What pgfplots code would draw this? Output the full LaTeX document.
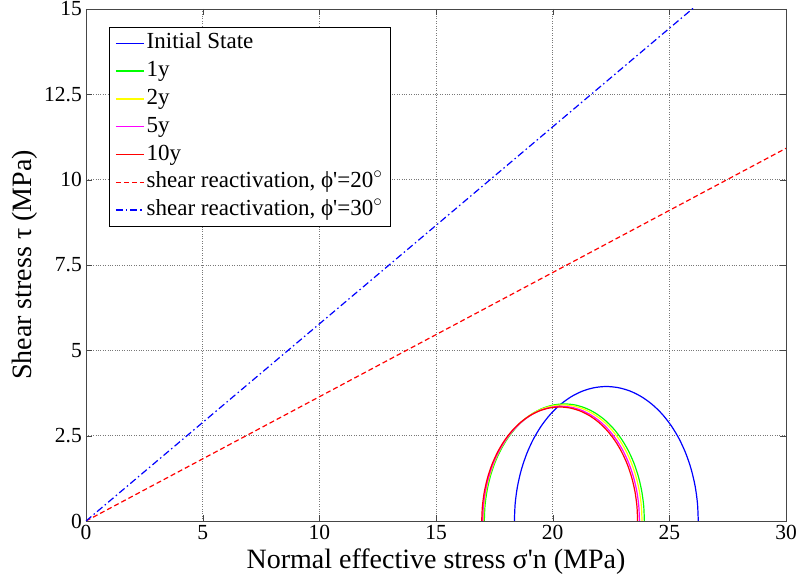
\documentclass[border=0pt]{standalone}
\usepackage{fontspec}
\setmainfont{Liberation Serif}
\usepackage{pgfplots}
\pgfplotsset{compat=1.18}
\definecolor{mblue}{RGB}{0,0,255}
\definecolor{mgreen}{RGB}{0,255,0}
\definecolor{myellow}{RGB}{255,255,0}
\definecolor{mmagenta}{RGB}{255,0,255}
\definecolor{mred}{RGB}{255,0,0}
\definecolor{mframe}{RGB}{70,70,70}
\definecolor{mgrid}{RGB}{120,120,120}
\begin{document}
\begin{tikzpicture}
\begin{axis}[
  scale only axis, width=700bp, height=512bp,
  xmin=0, xmax=30, ymin=0, ymax=15,
  xtick={0,5,...,30}, ytick={0,2.5,5,7.5,10,12.5,15},
  tick align=inside, major tick length=6bp,
  grid=major, grid style={dotted, draw=mgrid},
  axis line style={draw=mframe}, tick style={draw=mframe},
  /pgf/number format/assume math mode=true,
  xticklabel={\pgfmathprintnumber[assume math mode=true]{\tick}},
  yticklabel={\pgfmathprintnumber[assume math mode=true]{\tick}},
  ticklabel style={font=\fontsize{21.5bp}{26bp}\selectfont},
  yticklabel style={inner xsep=4bp},
  xticklabel style={inner ysep=4bp},
  xlabel={Normal effective stress σ\textquotesingle n (MPa)},
  ylabel={Shear stress τ (MPa)},
  label style={font=\fontsize{28bp}{32bp}\selectfont},
  xlabel style={at={(axis description cs:0.5,0)}, anchor=base, yshift=-47bp},
  ylabel style={at={([xshift=-61bp]axis description cs:0,0.5)}, anchor=center},
  legend style={at={(0.0329,0.964)}, anchor=north west, draw=black, fill=white,
    font=\fontsize{23bp}{27bp}\selectfont, row sep=0bp, inner xsep=6bp, inner ysep=1.8bp,
    nodes={inner ysep=3.4bp, inner xsep=2bp, text height=16bp, text depth=5bp}},
  legend cell align=left,
  legend image code/.code={\draw[#1, line width=1.5bp] (0bp,0bp) -- (28bp,0bp);},
  every axis plot/.append style={line width=1.2bp},
]
\addplot[draw=mblue, smooth] coordinates {
(26.24,0) (26.206,0.514) (26.106,1.020) (25.940,1.508) (25.712,1.97) (25.426,2.399) (25.086,2.786) (24.699,3.126) (24.270,3.412) (23.808,3.640) (23.320,3.806) (22.814,3.906) (22.30,3.94) (21.786,3.906) (21.280,3.806) (20.792,3.640) (20.330,3.412) (19.901,3.126) (19.514,2.786) (19.174,2.399) (18.888,1.97) (18.660,1.508) (18.494,1.020) (18.394,0.514) (18.36,0)};
\addlegendentry{Initial State}
\addplot[draw=mgreen, smooth] coordinates {
(23.93,0) (23.901,0.448) (23.813,0.888) (23.669,1.313) (23.471,1.715) (23.221,2.088) (22.925,2.425) (22.588,2.721) (22.215,2.971) (21.813,3.169) (21.388,3.313) (20.948,3.401) (20.50,3.43) (20.052,3.401) (19.612,3.313) (19.187,3.169) (18.785,2.971) (18.412,2.721) (18.075,2.425) (17.779,2.088) (17.529,1.715) (17.331,1.313) (17.187,0.888) (17.099,0.448) (17.07,0)};
\addlegendentry{1y}
\addplot[draw=myellow, smooth] coordinates {
(23.83,0) (23.801,0.444) (23.714,0.880) (23.571,1.301) (23.374,1.70) (23.127,2.070) (22.834,2.404) (22.500,2.697) (22.130,2.945) (21.731,3.141) (21.310,3.284) (20.874,3.371) (20.43,3.40) (19.986,3.371) (19.550,3.284) (19.129,3.141) (18.730,2.945) (18.360,2.697) (18.026,2.404) (17.733,2.070) (17.486,1.70) (17.289,1.301) (17.146,0.880) (17.059,0.444) (17.03,0)};
\addlegendentry{2y}
\addplot[draw=mmagenta, smooth] coordinates {
(23.72,0) (23.691,0.439) (23.606,0.870) (23.464,1.286) (23.270,1.68) (23.026,2.045) (22.736,2.376) (22.405,2.666) (22.040,2.910) (21.646,3.104) (21.230,3.246) (20.799,3.331) (20.36,3.36) (19.921,3.331) (19.490,3.246) (19.074,3.104) (18.680,2.910) (18.315,2.666) (17.984,2.376) (17.694,2.045) (17.450,1.68) (17.256,1.286) (17.114,0.870) (17.029,0.439) (17.00,0)};
\addlegendentry{5y}
\addplot[draw=mred, smooth] coordinates {
(23.64,0) (23.611,0.436) (23.526,0.865) (23.386,1.278) (23.193,1.67) (22.950,2.033) (22.662,2.362) (22.333,2.650) (21.970,2.893) (21.578,3.086) (21.165,3.226) (20.736,3.311) (20.30,3.34) (19.864,3.311) (19.435,3.226) (19.022,3.086) (18.630,2.893) (18.267,2.650) (17.938,2.362) (17.650,2.033) (17.407,1.67) (17.214,1.278) (17.074,0.865) (16.989,0.436) (16.96,0)};
\addlegendentry{10y}
\addplot[draw=mred, dash pattern=on 5bp off 3bp] coordinates {(0,0) (30,10.919)};
\addlegendentry{shear reactivation, ϕ\textquotesingle=20$^{\circ}$\hspace{19bp}}
\addplot[draw=mblue, dash pattern=on 7bp off 3bp on 1.5bp off 3bp] coordinates {(0,0) (30,17.3205)};
\addlegendentry{shear reactivation, ϕ\textquotesingle=30$^{\circ}$}
\end{axis}
\pgfresetboundingbox
\path ([shift={(-86bp,-60bp)}]current axis.south west) rectangle ([shift={(13bp,9bp)}]current axis.north east);
\end{tikzpicture}
\end{document}
